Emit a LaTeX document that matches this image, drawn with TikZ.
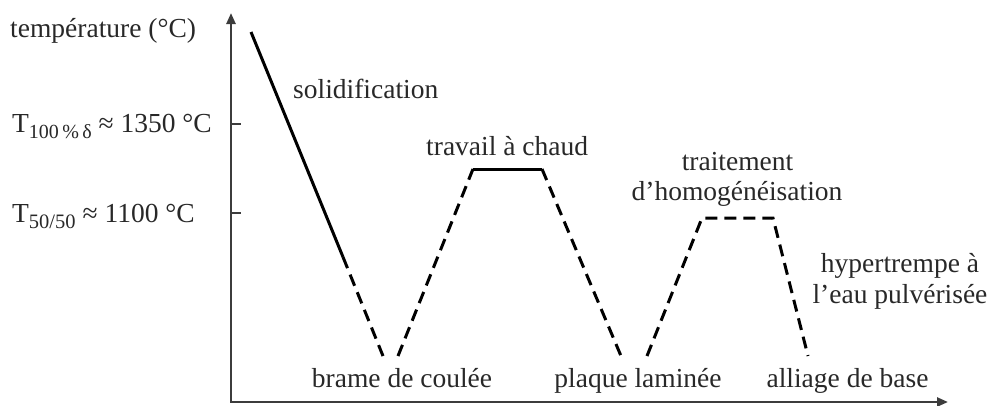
\documentclass[tikz,border=0pt]{standalone}
\usepackage{fontspec}
\setmainfont{Liberation Serif}
\usetikzlibrary{arrows.meta}
\definecolor{txt}{RGB}{40,40,40}
\definecolor{axc}{RGB}{60,60,60}
\begin{document}
\begin{tikzpicture}[x=1pt,y=-1pt,
  lbl/.style={inner sep=0pt, text=txt, font=\fontsize{27.5}{33}\selectfont},
  curve/.style={line width=3pt, black},
  dsh/.style={curve, dash pattern=on 12pt off 7pt},
  axis/.style={line width=2.4pt, axc, {Triangle[length=11pt,width=9pt]}-{Triangle[length=11pt,width=9pt]}},
  tick/.style={line width=2.2pt, axc}]
\useasboundingbox (0,0) rectangle (989,405);
% axes
\coordinate (O) at (231,402);
\coordinate (ytop) at (231,13);
\coordinate (xend) at (948,402);
\draw[axis] (ytop) -- (O) -- (xend);
\coordinate (t1) at (231,124); \coordinate (t1e) at (241,124);
\coordinate (t2) at (231,213); \coordinate (t2e) at (241,213);
\draw[tick] (t1) -- (t1e);
\draw[tick] (t2) -- (t2e);
% curve points
\coordinate (p0) at (251,32);
\coordinate (p1) at (343,257);
\coordinate (p2) at (383,356);
\coordinate (p3) at (398,356);
\coordinate (p4) at (473,169);
\coordinate (p5) at (542,169);
\coordinate (p6) at (621,356);
\coordinate (p7) at (647,356);
\coordinate (p8) at (702,218);
\coordinate (p9) at (773,218);
\coordinate (p10) at (808,356);
\draw[curve] (p0) -- (p1);
\draw[dsh] (p1) -- (p2);
\draw[dsh] (p3) -- (p4);
\draw[curve] (p4) -- (p5);
\draw[dsh] (p5) -- (p6);
\draw[dsh] (p7) -- (p8) -- (p9) -- (p10);
% labels
\node[lbl, anchor=base west] (ylab) at (10,37) {température (°C)};
\node[lbl, anchor=base west] (tcent) at (12,132) {T\raisebox{-6pt}{\fontsize{20}{20}\selectfont 100\,\%\,δ} ≈ 1350 °C};
\node[lbl, anchor=base west] (tfifty) at (12,222) {T\raisebox{-6pt}{\fontsize{20.5}{20}\selectfont 50/50} ≈ 1100 °C};
\node[lbl, anchor=base west] (solid) at (293,98) {solidification};
\node[lbl, anchor=base west] (chaud) at (426,155) {travail à chaud};
\node[lbl, anchor=base] (trait) at (737.5,170) {traitement};
\node[lbl, anchor=base] (homog) at (737,200) {d’homogénéisation};
\node[lbl, anchor=base] (hyper) at (900,272) {hypertrempe à};
\node[lbl, anchor=base] (eau) at (900,303) {l’eau pulvérisée};
\node[lbl, anchor=base] (brame) at (402,387) {brame de coulée};
\node[lbl, anchor=base] (plaque) at (638,387) {plaque laminée};
\node[lbl, anchor=base] (alliage) at (847.5,387) {alliage de base};
\end{tikzpicture}
\end{document}
